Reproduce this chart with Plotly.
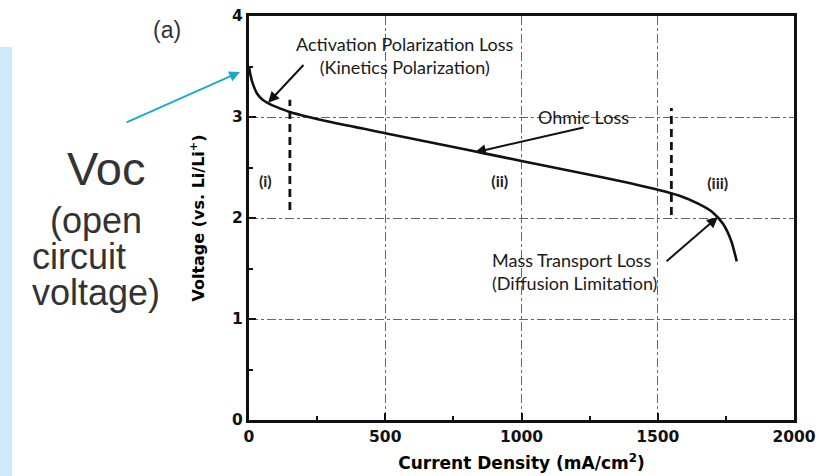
import plotly.graph_objects as go

# ---- data ----
current_density = [0, 5, 15, 30, 50, 75, 100, 150, 300, 500, 700, 900, 1100, 1300, 1500, 1580, 1650, 1700, 1740, 1770, 1790]
voltage = [3.50, 3.42, 3.32, 3.23, 3.17, 3.13, 3.10, 3.05, 2.95, 2.84, 2.73, 2.62, 2.51, 2.40, 2.28, 2.22, 2.14, 2.06, 1.94, 1.77, 1.57]

boundary_x = [150, 1550]
boundary_ylo = [2.08, 2.03]
boundary_yhi = [3.17, 3.09]

region_labels = ["(i)", "(ii)", "(iii)"]
region_x = [60, 920, 1720]
region_y = [2.35, 2.35, 2.33]

x_ticks = [0, 500, 1000, 1500, 2000]
y_ticks = [0, 1, 2, 3, 4]

# ---- layout helpers ----
L, R, T, B = 249, 794, 16, 420
W, H = 819, 476
def px(x):
    return (x - L) / (R - L)
def py(y):
    return (B - y) / (B - T)

fig = go.Figure()

fig.add_trace(go.Scatter(x=current_density, y=voltage, mode="lines",
                         line=dict(color="#111", width=2.6, shape="spline", smoothing=0.6),
                         showlegend=False, hoverinfo="skip"))

for bx, lo, hi in zip(boundary_x, boundary_ylo, boundary_yhi):
    fig.add_trace(go.Scatter(x=[bx, bx], y=[lo, hi], mode="lines",
                             line=dict(color="#111", width=2.8, dash="8px,5px"),
                             showlegend=False, hoverinfo="skip"))

fig.add_trace(go.Scatter(x=region_x, y=region_y, mode="text", text=region_labels,
                         textfont=dict(family="Lato", size=16, color="#222", weight="bold"),
                         showlegend=False, hoverinfo="skip"))

ann_font = dict(family="Lato", size=18, color="#1a1a1a")
panel_font = dict(family="Liberation Sans", size=36, color="#333")
annotations = [
    dict(x=572, y=3.61, xref="x", yref="y", text="Activation Polarization Loss<br>(Kinetics Polarization)",
         showarrow=False, font=ann_font, align="center"),
    dict(x=70, y=3.14, xref="x", yref="y", ax=205, ay=3.53, axref="x", ayref="y", text="",
         showarrow=True, arrowhead=2, arrowsize=1.1, arrowwidth=2, arrowcolor="#111"),
    dict(x=1226, y=3.0, xref="x", yref="y", text="Ohmic Loss", showarrow=False, font=ann_font),
    dict(x=829, y=2.65, xref="x", yref="y", ax=1233, ay=2.90, axref="x", ayref="y", text="",
         showarrow=True, arrowhead=2, arrowsize=1.1, arrowwidth=2, arrowcolor="#111"),
    dict(x=884, y=1.475, xref="x", yref="y", text="Mass Transport Loss<br>(Diffusion Limitation)",
         showarrow=False, font=ann_font, align="left", xanchor="left"),
    dict(x=1721, y=2.01, xref="x", yref="y", ax=1527, ay=1.56, axref="x", ayref="y", text="",
         showarrow=True, arrowhead=2, arrowsize=1.1, arrowwidth=2, arrowcolor="#111"),
    # outside panel texts
    dict(x=px(167), y=py(30), xref="paper", yref="paper", text="(a)", showarrow=False,
         xanchor="center", yanchor="middle",
         font=dict(family="Liberation Sans", size=23, color="#333")),
    dict(x=px(106), y=py(168), xref="paper", yref="paper", text="Voc", showarrow=False,
         xanchor="center", yanchor="middle",
         font=dict(family="Liberation Sans", size=47, color="#333")),
    dict(x=px(48), y=py(220), xref="paper", yref="paper", text="(open", showarrow=False,
         xanchor="left", yanchor="middle", font=panel_font),
    dict(x=px(30), y=py(256), xref="paper", yref="paper", text="circuit", showarrow=False,
         xanchor="left", yanchor="middle", font=panel_font),
    dict(x=px(30), y=py(292), xref="paper", yref="paper", text="voltage)", showarrow=False,
         xanchor="left", yanchor="middle", font=panel_font),
    dict(x=px(240), y=py(72), xref="paper", yref="paper", ax=125 - 240, ay=123 - 72, text="",
         showarrow=True, arrowhead=2, arrowsize=1.2, arrowwidth=1.8, arrowcolor="#19a9cc"),
]

shapes = [
    dict(type="rect", xref="paper", yref="paper", x0=px(0), x1=px(12), y0=py(476), y1=py(47),
         fillcolor="#cfe9fc", line=dict(width=0), layer="below"),
]

tick_font = dict(family="DejaVu Sans", size=15.5, color="#111", weight="bold")
fig.update_layout(
    width=W, height=H,
    margin=dict(l=L, r=W - R, t=T, b=H - B),
    paper_bgcolor="white", plot_bgcolor="white",
    annotations=annotations, shapes=shapes,
    xaxis=dict(range=[0, 2000], tickvals=x_ticks, ticks="inside", ticklen=7, tickwidth=2, tickcolor="#111",
               showline=True, linewidth=3, linecolor="#111", mirror=True, automargin=False,
               showgrid=True, gridcolor="#666", griddash="dashdot", gridwidth=1,
               minor=dict(dtick=250, ticks="inside", ticklen=4, tickwidth=2, tickcolor="#111", showgrid=False),
               tickfont=tick_font, zeroline=False,
               title=dict(text="Current Density (mA/cm<sup>2</sup>)", standoff=13,
                          font=dict(family="DejaVu Sans", size=17, color="#000", weight="bold"))),
    yaxis=dict(range=[0, 4], tickvals=y_ticks, ticks="inside", ticklen=7, tickwidth=2, tickcolor="#111",
               showline=True, linewidth=3, linecolor="#111", mirror=True, automargin=False,
               showgrid=True, gridcolor="#666", griddash="dashdot", gridwidth=1,
               minor=dict(dtick=0.5, ticks="inside", ticklen=4, tickwidth=2, tickcolor="#111", showgrid=False),
               tickfont=tick_font, zeroline=False,
               title=dict(text="Voltage (vs. Li/Li<sup>+</sup>)", standoff=24,
                          font=dict(family="DejaVu Sans", size=16, color="#000", weight="bold"))),
)

fig.write_html("out.html", config={"displayModeBar": False},
               post_script="document.body.style.margin='0';document.body.style.overflow='hidden';")
